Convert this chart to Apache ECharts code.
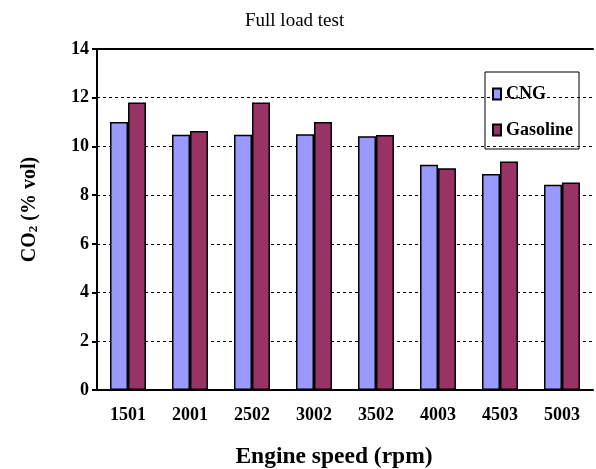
<!DOCTYPE html>
<html>
<head>
<meta charset="utf-8">
<script src="https://cdn.jsdelivr.net/npm/echarts@6/dist/echarts.min.js"></script>
<style>
  html, body { margin: 0; padding: 0; background: #fff; }
  #chart { width: 596px; height: 469px; }
</style>
</head>
<body>
<div id="chart"></div>
<script>
// engine speeds (rpm)
const speeds = ['1501', '2001', '2502', '3002', '3502', '4003', '4503', '5003']
// CO2 (% vol) at full load
const cng = [11.0, 10.48, 10.48, 10.5, 10.42, 9.25, 8.87, 8.43]
const gasoline = [11.8, 10.63, 11.8, 11.0, 10.47, 9.1, 9.38, 8.52]

const font = 'Liberation Serif, Times New Roman, serif'

let myChart = echarts.init(document.getElementById('chart'))
let option = {
  animation: false,
  backgroundColor: '#fff',
  textStyle: { fontFamily: font },
  title: {
    text: 'Full load test',
    left: 240,
    top: 7,
    textStyle: { fontFamily: font, fontWeight: 'normal', fontSize: 19, color: '#000' }
  },
  legend: {
    orient: 'vertical',
    left: 485,
    top: 72,
    padding: [13, 6, 10, 7],
    itemGap: 18,
    itemWidth: 8,
    itemHeight: 11,
    icon: 'rect',
    borderColor: '#000',
    borderWidth: 1,
    textStyle: { fontFamily: font, fontWeight: 'bold', fontSize: 18, color: '#000' },
    data: ['CNG', 'Gasoline']
  },
  grid: {
    left: 97,
    right: 3,
    top: 49,
    bottom: 79,
    outerBoundsMode: 'none'
  },
  xAxis: [{
    type: 'category',
    data: speeds,
    name: 'Engine speed (rpm)',
    nameLocation: 'middle',
    nameGap: 55,
    nameTextStyle: { fontFamily: font, fontWeight: 'bold', fontSize: 23.5, color: '#000', padding: [0, 22, 0, 0] },
    axisLine: { lineStyle: { color: '#000', width: 2 } },
    axisTick: { length: 7, lineStyle: { color: '#000', width: 2 } },
    axisLabel: { fontFamily: font, fontWeight: 'bold', fontSize: 18, color: '#000', margin: 16 }
  }, {
    type: 'category',
    data: speeds,
    position: 'top',
    axisLine: { lineStyle: { color: '#000', width: 2 } },
    axisTick: { show: false },
    axisLabel: { show: false }
  }],
  yAxis: {
    type: 'value',
    min: 0,
    max: 14,
    interval: 2,
    name: '{a|CO}{s|2}{a| (% vol)}',
    nameLocation: 'middle',
    nameGap: 57,
    nameRotate: 90,
    nameTextStyle: {
      padding: [0, 0, 0, 20],
      rich: {
        a: { fontFamily: font, fontWeight: 'bold', fontSize: 20, color: '#000' },
        s: { fontFamily: font, fontWeight: 'bold', fontSize: 13, color: '#000', verticalAlign: 'bottom', padding: [7, 0, 0, 0] }
      }
    },
    axisLine: { show: true, lineStyle: { color: '#000', width: 2 } },
    axisTick: { show: true, length: 5, lineStyle: { color: '#000', width: 2 } },
    axisLabel: { fontFamily: font, fontWeight: 'bold', fontSize: 18, color: '#000', margin: 8 },
    splitLine: { lineStyle: { color: '#000', width: 1, type: [3, 3] } }
  },
  series: [{
    name: 'CNG',
    type: 'bar',
    data: cng,
    barGap: '0%',
    barCategoryGap: '42%',
    itemStyle: { color: '#9999ff', borderColor: '#000', borderWidth: 1.5 }
  }, {
    name: 'Gasoline',
    type: 'bar',
    data: gasoline,
    barGap: '0%',
    barCategoryGap: '42%',
    itemStyle: { color: '#993366', borderColor: '#000', borderWidth: 1.5 }
  }]
}
myChart.setOption(option)
</script>
</body>
</html>
